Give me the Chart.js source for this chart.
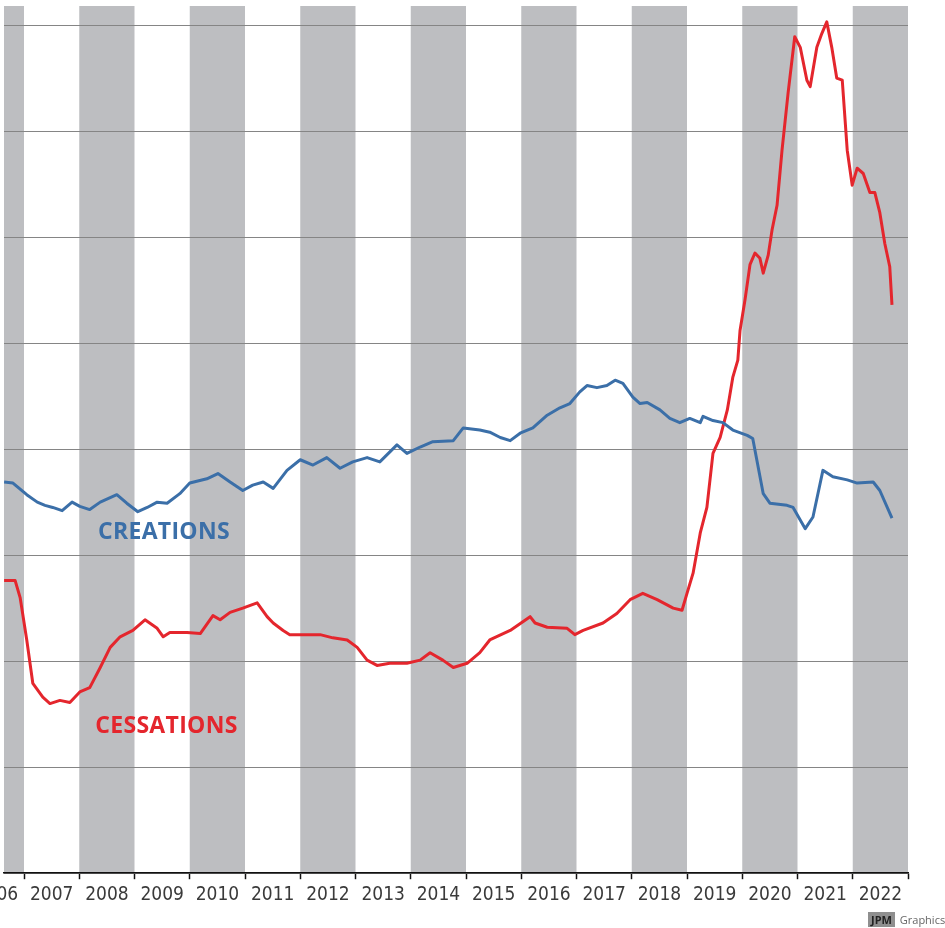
<!DOCTYPE html>
<html>
<head>
<meta charset="utf-8">
<script src="https://cdn.jsdelivr.net/npm/chart.js@4.4.1/dist/chart.umd.min.js"></script>
<style>
  html, body { margin: 0; padding: 0; background: #fff; }
  #wrap { position: relative; width: 945px; height: 928px; overflow: hidden; }
  #credit { position: absolute; left: 868px; top: 912px; font: 11px "Open Sans", sans-serif; color: #666; white-space: nowrap; }
  #credit span { background: #8f8f8f; color: #222; font-weight: bold; padding: 0 3px; margin-right: 2px; }
</style>
</head>
<body>
<div id="wrap">
  <canvas id="chart" width="945" height="928"></canvas>
  <div id="credit"><span>JPM</span> Graphics</div>
</div>
<script>
// --- Data ---
const yearLabels = [2006, 2007, 2008, 2009, 2010, 2011, 2012, 2013, 2014, 2015, 2016, 2017, 2018, 2019, 2020, 2021, 2022];
const shadedYears = [2006, 2008, 2010, 2012, 2014, 2016, 2018, 2020, 2022];
const gridLevels = [0, 1, 2, 3, 4, 5, 6, 7, 8];

const creationsYears = [
  2006.64, 2006.80, 2007.05, 2007.24, 2007.38, 2007.52, 2007.69, 2007.87, 2008.01, 2008.19,
  2008.38, 2008.68, 2008.86, 2009.06, 2009.23, 2009.41, 2009.59, 2009.82, 2010.00, 2010.31,
  2010.51, 2010.73, 2010.96, 2011.14, 2011.33, 2011.51, 2011.76, 2012.00, 2012.23, 2012.48,
  2012.72, 2012.95, 2013.21, 2013.44, 2013.75, 2013.93, 2014.17, 2014.40, 2014.77, 2014.95,
  2015.25, 2015.43, 2015.62, 2015.80, 2015.98, 2016.21, 2016.47, 2016.70, 2016.88, 2017.06,
  2017.19, 2017.37, 2017.55, 2017.70, 2017.84, 2018.02, 2018.15, 2018.28, 2018.51, 2018.69,
  2018.87, 2019.05, 2019.24, 2019.29, 2019.47, 2019.65, 2019.83, 2020.09, 2020.19, 2020.38,
  2020.50, 2020.81, 2020.92, 2021.14, 2021.28, 2021.46, 2021.64, 2021.90, 2022.08, 2022.37,
  2022.49, 2022.71
];
const creationsValues = [
  3.69, 3.68, 3.57, 3.50, 3.47, 3.45, 3.42, 3.50, 3.46, 3.43,
  3.50, 3.57, 3.49, 3.41, 3.45, 3.50, 3.49, 3.58, 3.68, 3.72,
  3.77, 3.69, 3.61, 3.66, 3.69, 3.63, 3.80, 3.90, 3.85, 3.92,
  3.82, 3.88, 3.92, 3.88, 4.04, 3.96, 4.02, 4.07, 4.08, 4.20,
  4.18, 4.16, 4.11, 4.08, 4.15, 4.20, 4.32, 4.39, 4.43, 4.54,
  4.60, 4.58, 4.60, 4.65, 4.62, 4.49, 4.43, 4.44, 4.37, 4.29,
  4.25, 4.29, 4.25, 4.31, 4.27, 4.25, 4.18, 4.13, 4.10, 3.58,
  3.49, 3.47, 3.45, 3.25, 3.36, 3.80, 3.74, 3.71, 3.68, 3.69,
  3.61, 3.35
];

const cessationsYears = [
  2006.64, 2006.84, 2006.93, 2007.05, 2007.16, 2007.34, 2007.47, 2007.65, 2007.83, 2008.01,
  2008.19, 2008.38, 2008.56, 2008.74, 2008.97, 2009.19, 2009.41, 2009.52, 2009.64, 2009.95,
  2010.19, 2010.42, 2010.55, 2010.73, 2010.96, 2011.22, 2011.40, 2011.51, 2011.69, 2011.81,
  2012.12, 2012.36, 2012.59, 2012.85, 2013.03, 2013.21, 2013.39, 2013.62, 2013.93, 2014.17,
  2014.35, 2014.58, 2014.77, 2015.02, 2015.25, 2015.43, 2015.80, 2016.16, 2016.25, 2016.47,
  2016.83, 2016.97, 2017.12, 2017.48, 2017.73, 2017.97, 2018.20, 2018.46, 2018.75, 2018.91,
  2019.00, 2019.11, 2019.24, 2019.36, 2019.47, 2019.60, 2019.73, 2019.83, 2019.92, 2019.96,
  2020.05, 2020.14, 2020.23, 2020.32, 2020.38, 2020.47, 2020.54, 2020.63, 2020.72, 2020.83,
  2020.95, 2021.05, 2021.17, 2021.23, 2021.35, 2021.44, 2021.53, 2021.62, 2021.71, 2021.81,
  2021.90, 2021.99, 2022.08, 2022.19, 2022.31, 2022.40, 2022.49, 2022.58, 2022.67, 2022.71
];
const cessationsValues = [
  2.76, 2.76, 2.60, 2.20, 1.79, 1.66, 1.60, 1.63, 1.61, 1.71,
  1.75, 1.94, 2.13, 2.23, 2.29, 2.39, 2.31, 2.23, 2.27, 2.27,
  2.26, 2.43, 2.39, 2.46, 2.50, 2.55, 2.42, 2.36, 2.29, 2.25,
  2.25, 2.25, 2.22, 2.20, 2.13, 2.01, 1.96, 1.98, 1.98, 2.01,
  2.08, 2.01, 1.94, 1.98, 2.08, 2.20, 2.29, 2.42, 2.36, 2.32,
  2.31, 2.25, 2.29, 2.36, 2.45, 2.58, 2.64, 2.58, 2.50, 2.48,
  2.64, 2.83, 3.21, 3.45, 3.96, 4.11, 4.37, 4.68, 4.84, 5.12,
  5.41, 5.74, 5.85, 5.80, 5.66, 5.83, 6.07, 6.30, 6.82, 7.36,
  7.89, 7.79, 7.48, 7.42, 7.79, 7.92, 8.03, 7.79, 7.50, 7.48,
  6.82, 6.49, 6.65, 6.60, 6.42, 6.42, 6.23, 5.94, 5.72, 5.36
];

// series name labels: [text, year, value, colour]
const seriesLabels = [
  ["CREATIONS", 2008.34, 3.21, "#3b6fa8"],
  ["CESSATIONS", 2008.29, 1.38, "#e4262d"],
];

const BLUE = "#3b6fa8";
const RED = "#e4262d";

function toPoints(xs, ys) {
  return xs.map((x, i) => ({ x: x, y: ys[i] }));
}

// --- Plugins ---
const bandsPlugin = {
  id: "bands",
  beforeDraw(chart) {
    const { ctx, chartArea, scales } = chart;
    ctx.save();
    ctx.beginPath();
    ctx.rect(chartArea.left, chartArea.top, chartArea.width, chartArea.height);
    ctx.clip();
    ctx.fillStyle = "#bdbec1";
    shadedYears.forEach((y) => {
      const x0 = scales.x.getPixelForValue(y);
      const x1 = scales.x.getPixelForValue(y + 1);
      ctx.fillRect(x0, chartArea.top, x1 - x0, chartArea.height);
    });
    ctx.restore();
  },
};

const namesPlugin = {
  id: "names",
  afterDatasetsDraw(chart) {
    const { ctx, scales } = chart;
    ctx.save();
    ctx.font = 'bold 23px "Open Sans", "DejaVu Sans", sans-serif';
    ctx.letterSpacing = "0.3px";
    ctx.textAlign = "left";
    ctx.textBaseline = "middle";
    seriesLabels.forEach(([text, yr, val, color]) => {
      ctx.fillStyle = color;
      ctx.fillText(text, scales.x.getPixelForValue(yr), scales.y.getPixelForValue(val));
    });
    ctx.restore();
  },
};

// --- Chart ---
// year boundaries first (no label) so the half-year label ticks don't push the chart area
const boundaryTicks = yearLabels.slice(1).map((y) => ({ value: y }));
const labelTicks = yearLabels.map((y) => ({ value: y + 0.5 }));
const xTicks = boundaryTicks.concat(labelTicks, [{ value: 2023 }]);

new Chart(document.getElementById("chart"), {
  type: "line",
  data: {
    datasets: [
      {
        label: "Creations",
        data: toPoints(creationsYears, creationsValues),
        borderColor: BLUE,
        borderWidth: 3,
        pointRadius: 0,
        tension: 0,
        borderJoinStyle: "round",
      },
      {
        label: "Cessations",
        data: toPoints(cessationsYears, cessationsValues),
        borderColor: RED,
        borderWidth: 3,
        pointRadius: 0,
        tension: 0,
        borderJoinStyle: "round",
      },
    ],
  },
  options: {
    responsive: false,
    animation: false,
    layout: { autoPadding: false, padding: { left: 4, right: 37, top: 6, bottom: 18 } },
    plugins: { legend: { display: false }, tooltip: { enabled: false } },
    scales: {
      x: {
        type: "linear",
        min: 2006.638,
        max: 2023,
        afterBuildTicks: (axis) => {
          axis.ticks = xTicks.map((t) => ({ value: t.value }));
        },
        grid: {
          drawOnChartArea: false,
          drawTicks: true,
          tickLength: 6,
          tickWidth: 1.5,
          tickColor: (c) => (c.tick && Number.isInteger(c.tick.value) ? "#111" : "rgba(0,0,0,0)"),
        },
        border: { display: true, color: "#111", width: 1.5 },
        ticks: {
          autoSkip: false,
          maxRotation: 0,
          padding: 4,
          color: "#3a3a3a",
          font: { family: '"Liberation Sans Narrow", "DejaVu Sans Condensed", sans-serif', size: 19 },
          callback: (v) => (Number.isInteger(v) ? "" : String(Math.floor(v))),
        },
      },
      y: {
        min: 0,
        max: 8.18,
        afterBuildTicks: (axis) => {
          axis.ticks = gridLevels.map((v) => ({ value: v }));
        },
        ticks: { display: false },
        grid: { color: "#858585", lineWidth: 1, drawTicks: false },
        border: { display: false },
      },
    },
  },
  plugins: [bandsPlugin, namesPlugin],
});
</script>
</body>
</html>
